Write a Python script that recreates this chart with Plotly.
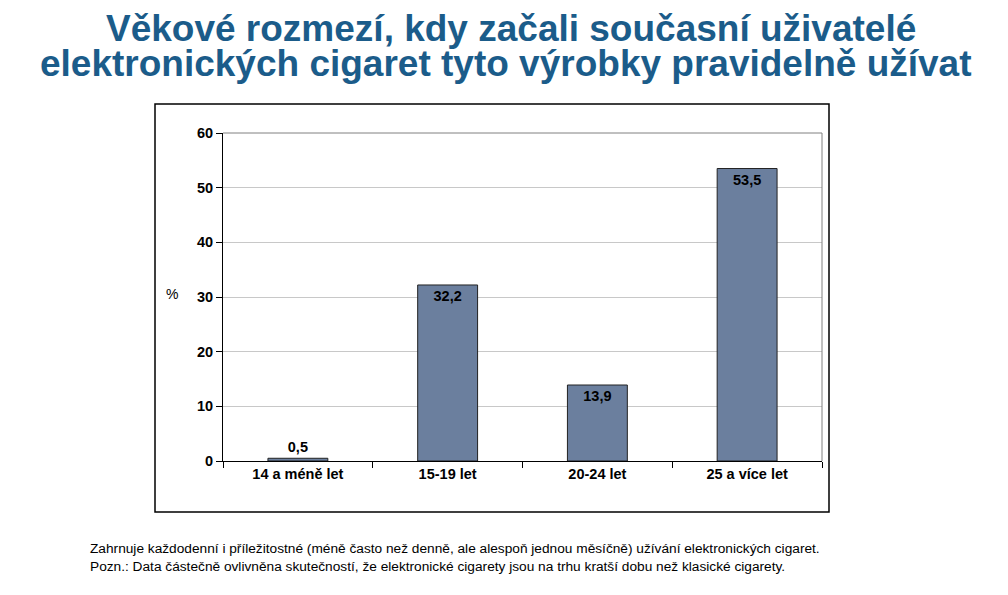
import plotly.graph_objects as go

categories = ["14 a méně let", "15-19 let", "20-24 let", "25 a více let"]
values = [0.5, 32.2, 13.9, 53.5]
y_ticks = [0, 10, 20, 30, 40, 50, 60]

title_lines = ["Věkové rozmezí, kdy začali současní uživatelé",
               "elektronických cigaret tyto výrobky pravidelně užívat"]
footnotes = ["Zahrnuje každodenní i příležitostné (méně často než denně, ale alespoň jednou měsíčně) užívání elektronických cigaret.",
             "Pozn.: Data částečně ovlivněna skutečností, že elektronické cigarety jsou na trhu kratší dobu než klasické cigarety."]

FONT = "Liberation Sans, Arial, sans-serif"
labels = [f"{v:.1f}".replace(".", ",") for v in values]
positions = ["outside" if v < 5 else "inside" for v in values]


def px_x(px):
    return (px - 223) / 599


def px_y(py):
    return (461 - py) / 328


fig = go.Figure(go.Bar(
    x=categories, y=values, width=0.4,
    marker=dict(color="#6B7F9E", line=dict(color="#222222", width=1)),
    text=labels, textposition=positions, insidetextanchor="end",
    textfont=dict(family=FONT, size=14.5, color="black", weight="bold"),
    cliponaxis=False,
))

fig.update_layout(
    width=1008, height=595,
    paper_bgcolor="white", plot_bgcolor="white",
    margin=dict(l=215, r=194, t=125, b=142),
    showlegend=False,
    font=dict(family=FONT, color="black"),
    uniformtext=dict(mode=False),
)
fig.update_xaxes(
    type="category", tickson="boundaries", ticks="outside", ticklen=6,
    tickcolor="black", showline=True, linecolor="black", linewidth=1,
    showgrid=False, mirror=False,
    tickfont=dict(family=FONT, size=14.5, color="black", weight="bold"),
)
fig.update_yaxes(
    range=[0, 60], tickvals=y_ticks, ticks="outside", ticklen=6,
    tickcolor="black", showline=True, linecolor="black", linewidth=1,
    showgrid=True, gridcolor="#C8C8C8", gridwidth=1, zeroline=False,
    tickfont=dict(family=FONT, size=14.5, color="black", weight="bold"),
)

shapes = [
    dict(type="line", xref="paper", yref="paper", x0=0, x1=1, y0=1, y1=1,
         line=dict(color="#808080", width=1)),
    dict(type="line", xref="paper", yref="paper", x0=1, x1=1, y0=0, y1=1,
         line=dict(color="#808080", width=1)),
    dict(type="rect", xref="paper", yref="paper",
         x0=px_x(155), x1=px_x(829), y0=px_y(512), y1=px_y(104),
         line=dict(color="black", width=1.5), fillcolor="rgba(0,0,0,0)", layer="below"),
]
fig.update_layout(shapes=shapes)

annotations = [
    dict(text=title_lines[0], xref="paper", yref="paper",
         x=px_x(511), y=px_y(28), xanchor="center", yanchor="middle",
         showarrow=False, font=dict(family=FONT, size=37, color="#1B5C8A", weight="bold")),
    dict(text=title_lines[1], xref="paper", yref="paper",
         x=px_x(506), y=px_y(63), xanchor="center", yanchor="middle",
         showarrow=False, font=dict(family=FONT, size=37, color="#1B5C8A", weight="bold")),
    dict(text="%", xref="paper", yref="paper",
         x=px_x(172), y=px_y(294), xanchor="center", yanchor="middle",
         showarrow=False, font=dict(family=FONT, size=14, color="black")),
    dict(text="<br>".join(footnotes), xref="paper", yref="paper",
         x=px_x(88), y=px_y(539), xanchor="left", yanchor="top",
         showarrow=False, align="left",
         font=dict(family=FONT, size=13.7, color="black")),
]
fig.update_layout(annotations=annotations)

fig.write_html("out.html")
